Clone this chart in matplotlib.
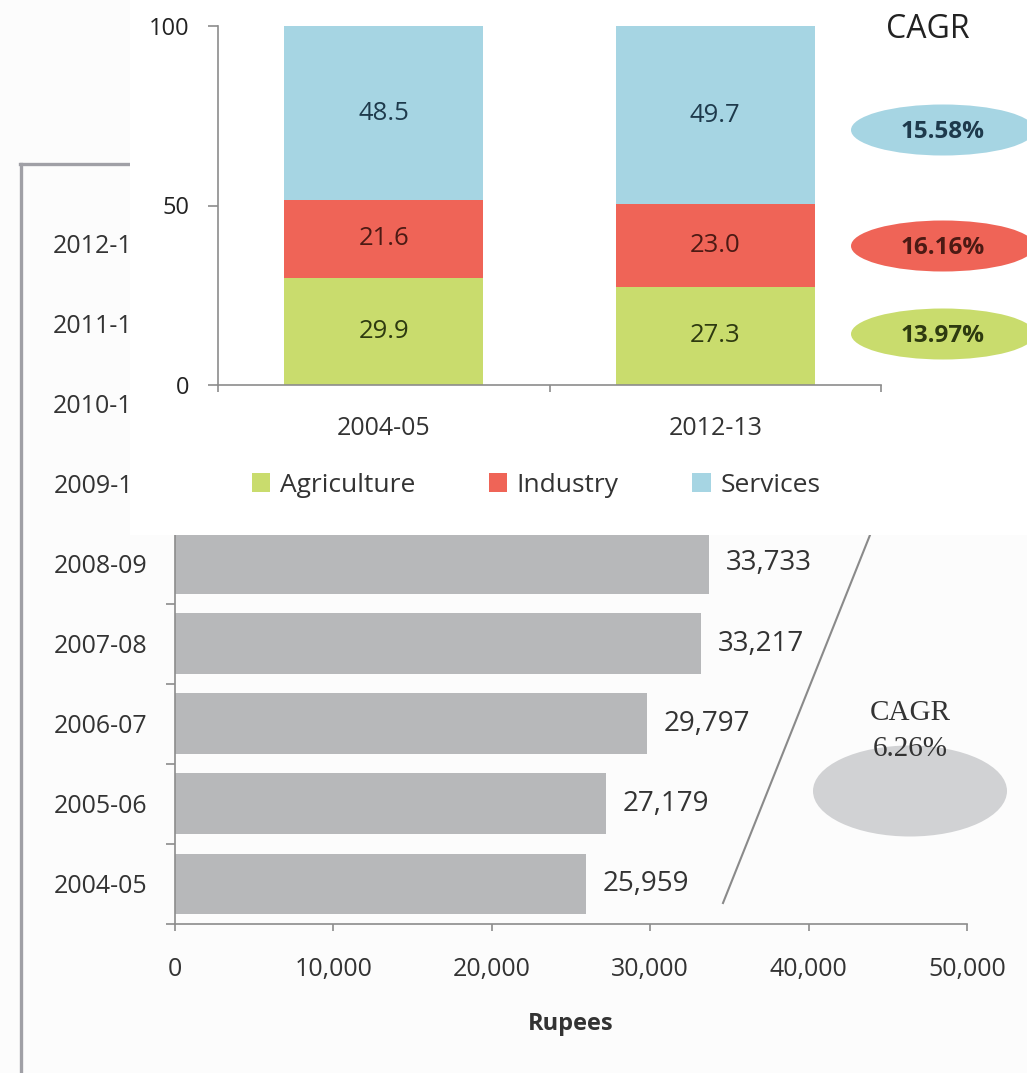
import numpy as np
import matplotlib
matplotlib.use("Agg")
import matplotlib.pyplot as plt
from matplotlib.patches import Rectangle, Ellipse
from matplotlib.lines import Line2D

plt.rcParams['font.family'] = ['Open Sans', 'DejaVu Sans']

# per capita income, rupees
years = ['2004-05', '2005-06', '2006-07', '2007-08', '2008-09',
         '2009-10', '2010-11', '2011-12', '2012-13']
income = [25959, 27179, 29797, 33217, 33733, 36003, 38357, 40217, 42191]
income_cagr = 6.26

# sector shares of GDP, %
share_years = ['2004-05', '2012-13']
sectors = ['Agriculture', 'Industry', 'Services']
shares = {
    'Agriculture': [29.9, 27.3],
    'Industry': [21.6, 23.0],
    'Services': [48.5, 49.7],
}
sector_cagr = [13.97, 16.16, 15.58]

sector_colors = ['#c9dc6d', '#ef6457', '#a6d5e3']
label_colors = ['#2e3a10', '#4c1a14', '#1e3a4c']
txt = '#333333'
axis_gray = '#8c8c8c'

W, H = 1027, 1073
fig = plt.figure(figsize=(W / 100, H / 100), dpi=100, facecolor='#fcfcfc')


def fx(x):
    return x / W


def fy(y):
    return 1 - y / H


# ---- per capita income bars ----
ax = fig.add_axes([fx(175), fy(924), (967 - 175) / W, (924 - 203) / H])
ax.patch.set_visible(False)
pos = np.arange(len(years))
bars = ax.barh(pos, income, height=0.76, color='#b7b8ba')
# the later years sit under the sector panel, so only the first five get a value
n_shown = 5
ax.bar_label(bars, labels=[f'{v:,}' if i < n_shown else '' for i, v in enumerate(income)],
             padding=12, fontsize=20, color=txt)
ax.set_xlim(0, 50000)
ax.set_ylim(-0.5, len(years) - 0.5)
ax.set_yticks(pos, years, fontsize=18, color=txt)
ax.set_yticks(np.arange(-0.5, len(years)), minor=True)
ax.tick_params(axis='y', which='major', length=0, pad=20)
ax.tick_params(axis='y', which='minor', length=6.5, width=1.2, color=axis_gray)
xt = np.arange(0, 50001, 10000)
ax.set_xticks(xt, [f'{v:,}' for v in xt], fontsize=18, color=txt)
ax.tick_params(axis='x', length=5, width=1.2, color=axis_gray, pad=19)
ax.set_xlabel('Rupees', fontsize=17, fontweight='bold', color=txt, labelpad=21)
for s in ['top', 'right']:
    ax.spines[s].set_visible(False)
for s in ['left', 'bottom']:
    ax.spines[s].set_color(axis_gray)
    ax.spines[s].set_linewidth(1.2)

# outer frame
fig.add_artist(Line2D([fx(21), fx(21)], [fy(164), fy(1080)], transform=fig.transFigure,
                      color='#a0a0a6', lw=2.4, zorder=1))
fig.add_artist(Line2D([fx(20), fx(400)], [fy(164), fy(164)], transform=fig.transFigure,
                      color='#a0a0a6', lw=2.4, zorder=1))

# growth marker
fig.add_artist(Line2D([fx(723), fx(878)], [fy(903), fy(515)], transform=fig.transFigure,
                      color='#8a8a8a', lw=1.5, zorder=1))
fig.add_artist(Ellipse((fx(910), fy(791)), 194 / W, 91 / H, transform=fig.transFigure,
                       facecolor='#d1d2d4', edgecolor='none', zorder=1))
fig.text(fx(910), fy(713), 'CAGR', ha='center', va='center',
         family=['Liberation Serif'], fontsize=21, color=txt, zorder=2)
fig.text(fx(910), fy(749), f'{income_cagr:.2f}%', ha='center', va='center',
         family=['Liberation Serif'], fontsize=21, color=txt, zorder=2)

# ---- sector share inset ----
fig.add_artist(Rectangle((fx(130), fy(535)), (W - 130) / W, 535 / H,
                         transform=fig.transFigure, facecolor='white',
                         edgecolor='none', zorder=1.5))

ins = fig.add_axes([fx(218), fy(385), (881 - 218) / W, (385 - 26) / H])
ins.set_zorder(2)
ins.patch.set_visible(False)
x = np.arange(len(share_years))
bottom = np.zeros(len(share_years))
handles = []
for name, col, lcol in zip(sectors, sector_colors, label_colors):
    vals = np.array(shares[name])
    b = ins.bar(x, vals, width=0.6, bottom=bottom, color=col, label=name)
    ins.bar_label(b, fmt='%.1f', label_type='center', fontsize=18.5, color=lcol)
    handles.append(b)
    bottom += vals
ins.set_xlim(-0.5, 1.5)
ins.set_ylim(0, 100)
ins.set_yticks([0, 50, 100])
ins.tick_params(axis='y', length=7.5, width=1.2, color=axis_gray, pad=13,
                labelsize=17, labelcolor='#222222')
ins.set_xticks(x, share_years, fontsize=18, color=txt)
ins.set_xticks([-0.5, 0.5, 1.5], minor=True)
ins.tick_params(axis='x', which='major', length=0, pad=22)
ins.tick_params(axis='x', which='minor', length=5, width=1.2, color=axis_gray)
for s in ['top', 'right']:
    ins.spines[s].set_visible(False)
for s in ['left', 'bottom']:
    ins.spines[s].set_color(axis_gray)
    ins.spines[s].set_linewidth(1.2)

leg = fig.legend(handles, sectors, loc='center', bbox_to_anchor=(fx(536), fy(485)),
                 ncol=3, frameon=False, fontsize=19, handlelength=0.7,
                 handleheight=0.7, handletextpad=0.35, columnspacing=2.8)
for t in leg.get_texts():
    t.set_color(txt)

fig.text(fx(928), fy(29), 'CAGR', ha='center', va='center', fontsize=23,
         color='#222222', zorder=4)
ellipse_y = [334, 246, 130]
for val, col, lcol, ey in zip(sector_cagr, sector_colors, label_colors, ellipse_y):
    fig.add_artist(Ellipse((fx(943), fy(ey)), 184 / W, 51 / H, transform=fig.transFigure,
                           facecolor=col, edgecolor='none', zorder=3))
    fig.text(fx(943), fy(ey + 2), f'{val:.2f}%', ha='center', va='center',
             fontsize=17.5, fontweight='bold', color=lcol, zorder=4)

fig.savefig('out.png', dpi=100, facecolor=fig.get_facecolor())
